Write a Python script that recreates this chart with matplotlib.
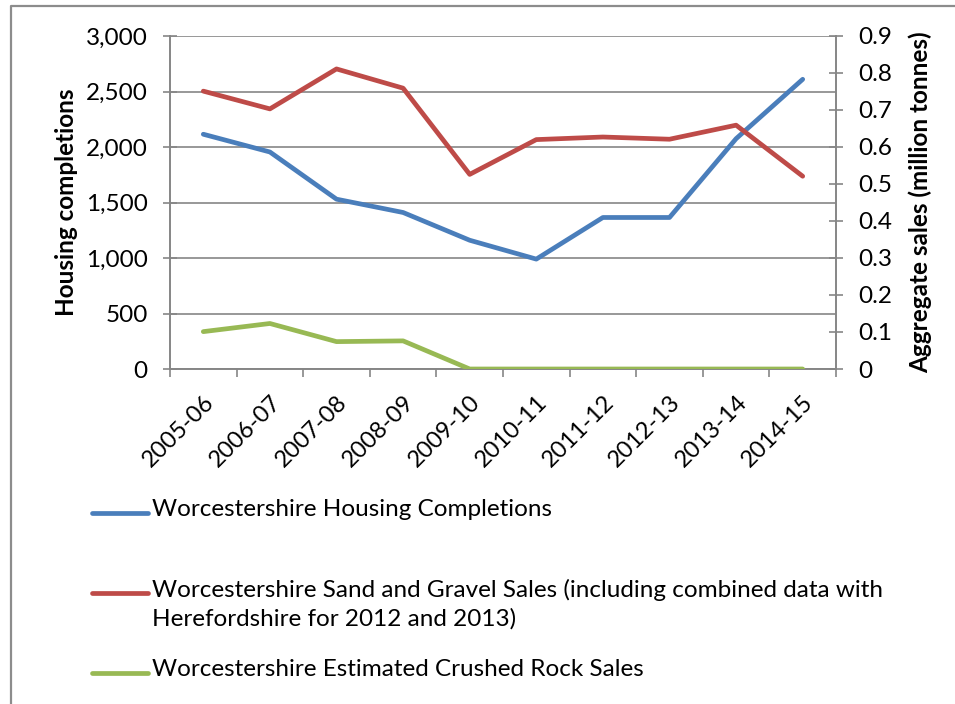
import matplotlib
matplotlib.use("Agg")
import matplotlib.pyplot as plt
from matplotlib.lines import Line2D
from matplotlib.ticker import FuncFormatter, MultipleLocator
import numpy as np

plt.rcParams['font.family'] = ['Lato', 'DejaVu Sans']

years = ['2005-06', '2006-07', '2007-08', '2008-09', '2009-10',
         '2010-11', '2011-12', '2012-13', '2013-14', '2014-15']
housing = [2115, 1955, 1530, 1410, 1160, 990, 1365, 1365, 2075, 2610]
sand_gravel = [0.751, 0.703, 0.811, 0.759, 0.526, 0.620, 0.627, 0.621, 0.659, 0.521]
crushed_rock = [0.101, 0.123, 0.074, 0.076, 0, 0, 0, 0, 0, 0]

labels = ['Worcestershire Housing Completions',
          'Worcestershire Sand and Gravel Sales (including combined data with\nHerefordshire for 2012 and 2013)',
          'Worcestershire Estimated Crushed Rock Sales']
colors = ['#4A7EBB', '#BE4B48', '#98B954']
grey = '#868686'

W, H = 955, 704
fig = plt.figure(figsize=(W / 100, H / 100), dpi=100)
ax = fig.add_axes([170 / W, 1 - 369 / H, (836 - 170) / W, (369 - 36) / H])
ax2 = ax.twinx()

x = np.arange(len(years))
lw = 3.4
ax.plot(x, housing, color=colors[0], lw=lw, solid_capstyle='round', zorder=3)
ax2.plot(x, sand_gravel, color=colors[1], lw=lw, solid_capstyle='round', zorder=3)
ax2.plot(x, crushed_rock, color=colors[2], lw=lw, solid_capstyle='round', zorder=3)

ax.set_xlim(-0.5, len(years) - 0.5)
ax.set_ylim(0, 3000)
ax2.set_ylim(0, 0.9)
ax.yaxis.set_major_locator(MultipleLocator(500))
ax.yaxis.set_major_formatter(FuncFormatter(lambda v, p: f'{int(v):,}'))
ax2.yaxis.set_major_locator(MultipleLocator(0.1))
ax2.yaxis.set_major_formatter(FuncFormatter(lambda v, p: '0' if v == 0 else f'{v:.1f}'))
ax.grid(axis='y', color=grey, lw=1.2)
ax.set_axisbelow(True)

# category boundaries carry the ticks, centres carry the labels
ax.set_xticks(np.arange(-0.5, len(years), 1.0))
ax.set_xticklabels([])
ax.set_xticks(x, minor=True)
ax.set_xticklabels(years, minor=True, rotation=45, ha='right',
                   rotation_mode='anchor', fontsize=17)
ax.tick_params(axis='x', which='major', direction='out', length=6, width=1.2, color=grey)
ax.tick_params(axis='x', which='minor', length=0, pad=16)
ax.tick_params(axis='y', direction='inout', length=10, width=1.2, color=grey,
               labelsize=17.5, pad=11)
ax2.tick_params(axis='y', direction='inout', length=10, width=1.2, color=grey,
                labelsize=17.5, pad=11)

for a in (ax, ax2):
    a.spines['top'].set_visible(False)
    for s in ('left', 'right', 'bottom'):
        a.spines[s].set_color(grey)
        a.spines[s].set_linewidth(1.2)

ax.set_ylabel('Housing completions', fontsize=17.5, fontweight='bold', labelpad=6)
ax2.set_ylabel('Aggregate sales (million tonnes)', fontsize=17.5, fontweight='bold', labelpad=12)

# legend below the plot, laid out like the original
rows = [513, 593, 673]
for c, lab, yy in zip(colors, labels, rows):
    fy = 1 - yy / H
    fig.add_artist(Line2D([92 / W, 148 / W], [fy, fy], color=c, lw=lw,
                          solid_capstyle='round'))
    fig.text(152 / W, 1 - (yy - 14) / H, lab, fontsize=17.5, va='top', ha='left',
             linespacing=1.4, transform=fig.transFigure)

# outer frame of the chart area
fig.add_artist(Line2D([11 / W, 11 / W, 1], [0, 1 - 6 / H, 1 - 6 / H],
                      color='#8c8c8c', lw=1.6))

fig.savefig('out.png', dpi=100)
